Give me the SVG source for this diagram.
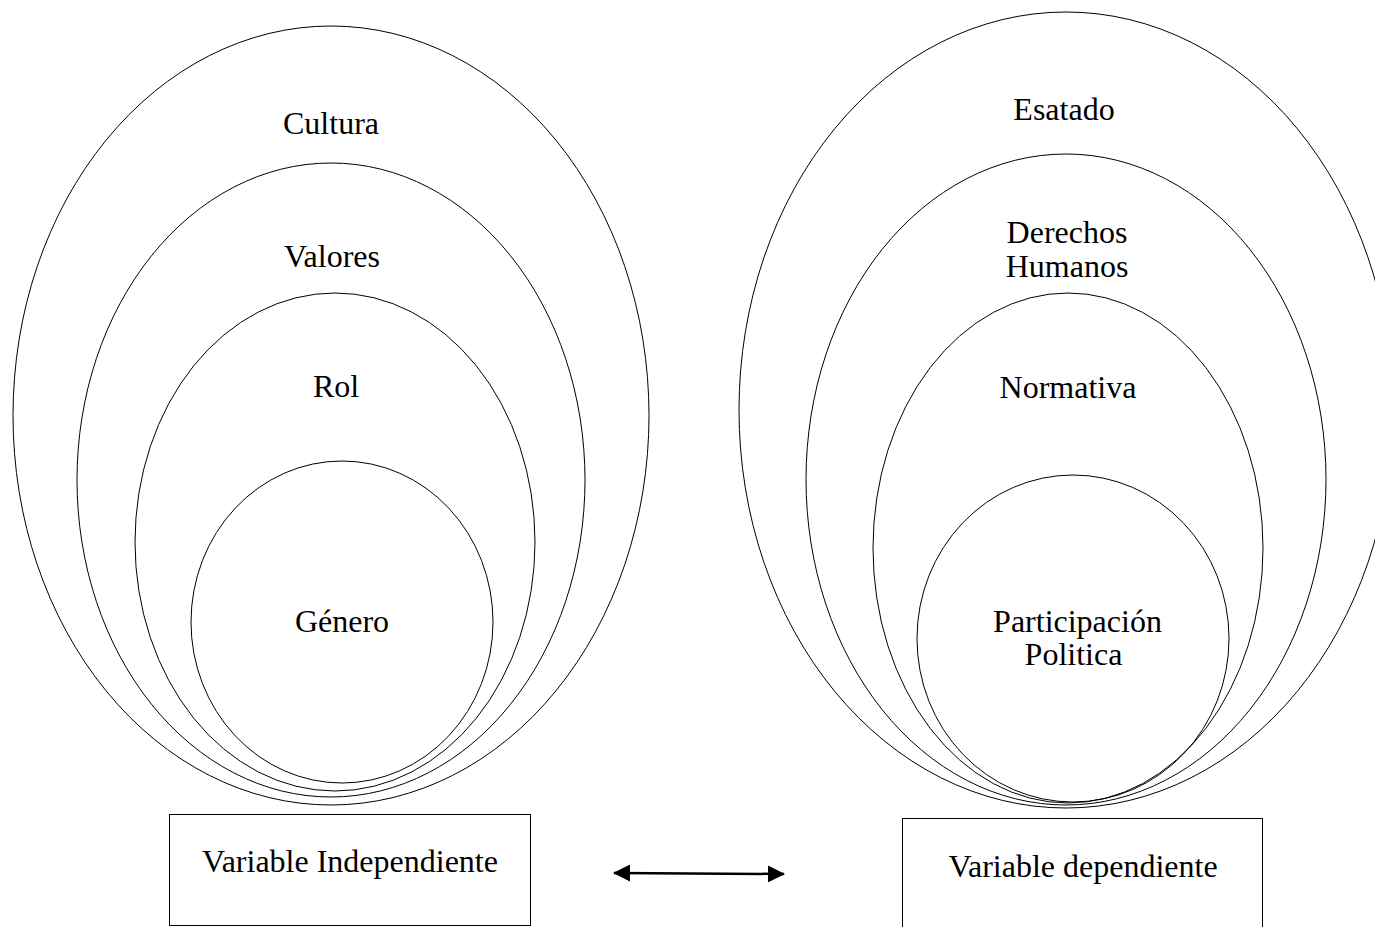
<svg xmlns="http://www.w3.org/2000/svg" width="1375" height="927" viewBox="0 0 1375 927">
<style>
.e{fill:none;stroke:#000;stroke-width:1}
.b{fill:#fff;stroke:#000;stroke-width:1}
.t{font-family:"Liberation Serif","Times New Roman",serif;font-size:32px;fill:#000;text-anchor:middle}
</style>
<defs>
<marker id="ah" viewBox="0 0 17 17" refX="16" refY="8.5" markerWidth="17" markerHeight="17" markerUnits="userSpaceOnUse" orient="auto-start-reverse">
<path d="M0,0 L17,8.5 L0,17 Z" fill="#000"/>
</marker>
</defs>
<rect width="1375" height="927" fill="#fff"/>
<g id="cultura"><ellipse class="e" cx="331" cy="415.5" rx="318" ry="389.5"/><text class="t" x="331" y="134">Cultura</text></g>
<g id="valores"><ellipse class="e" cx="331" cy="480" rx="254" ry="317"/><text class="t" x="332" y="267">Valores</text></g>
<g id="rol"><ellipse class="e" cx="335" cy="542" rx="200" ry="249"/><text class="t" x="336" y="397">Rol</text></g>
<g id="genero"><ellipse class="e" cx="342" cy="622" rx="151" ry="161"/><text class="t" x="342" y="632">Género</text></g>
<g id="estado"><ellipse class="e" cx="1066" cy="410" rx="327" ry="398"/><text class="t" x="1064" y="120">Esatado</text></g>
<g id="derechos"><ellipse class="e" cx="1066" cy="479.5" rx="260" ry="325.5"/><text class="t" x="1067" y="243">Derechos</text><text class="t" x="1067" y="277">Humanos</text></g>
<g id="normativa"><ellipse class="e" cx="1068" cy="548" rx="195" ry="255"/><text class="t" x="1068" y="398">Normativa</text></g>
<g id="participacion"><ellipse class="e" cx="1073" cy="638.5" rx="156" ry="163.5"/><text class="t" x="1077.5" y="632">Participación</text><text class="t" x="1073.5" y="665">Politica</text></g>
<g id="var-indep"><rect class="b" x="169.5" y="814.5" width="361" height="111"/><text class="t" x="350" y="872">Variable Independiente</text></g>
<g id="var-dep"><rect class="b" x="902.5" y="818.5" width="360" height="120"/><text class="t" x="1083" y="877">Variable dependiente</text></g>
<g id="connectors"><line x1="614" y1="873" x2="784" y2="874" stroke="#000" stroke-width="2.5" marker-start="url(#ah)" marker-end="url(#ah)"/></g>
</svg>
